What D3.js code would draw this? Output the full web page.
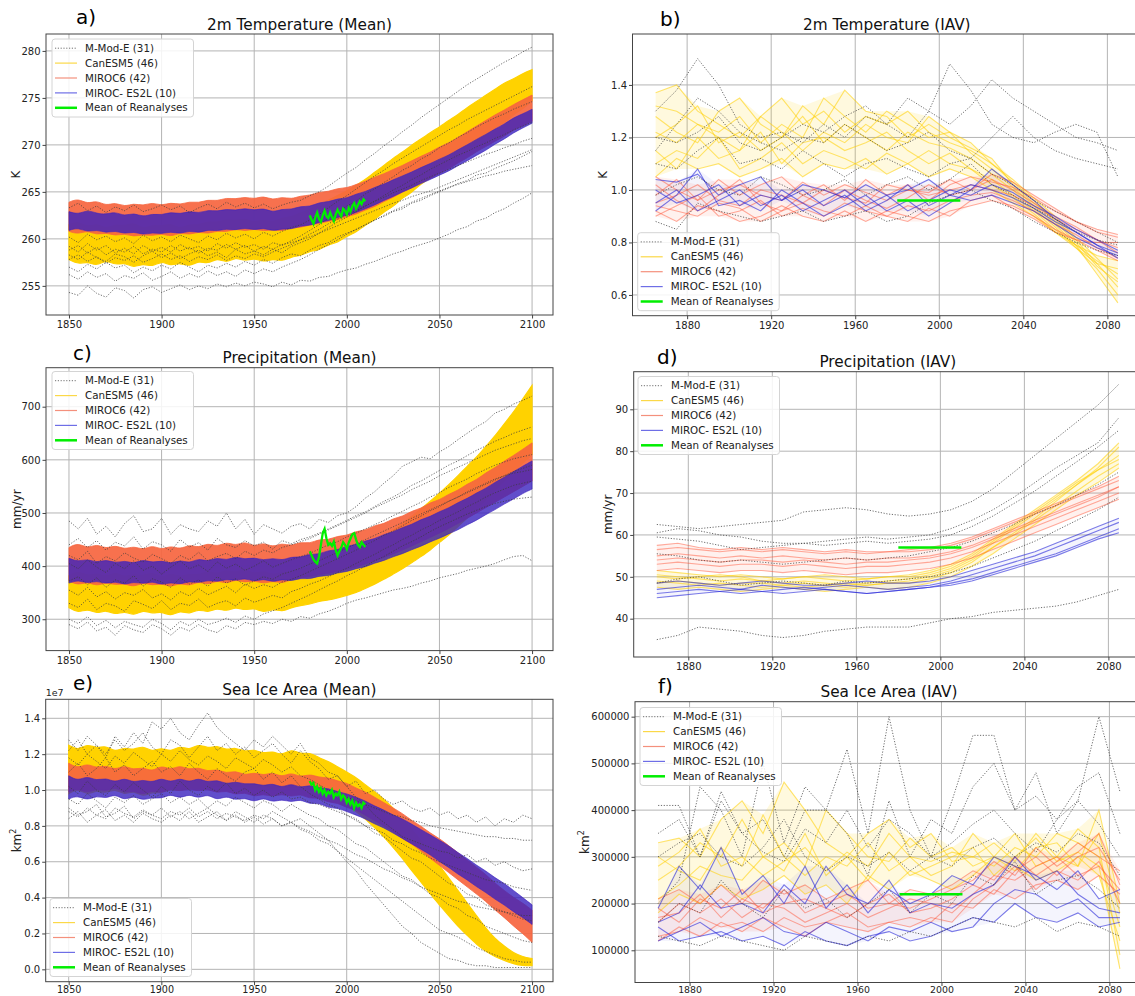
<!DOCTYPE html>
<html><head><meta charset="utf-8">
<script src="https://cdn.jsdelivr.net/npm/d3@7"></script>
<style>
body{margin:0;background:#fff;}
svg{display:block;font-family:"DejaVu Sans",sans-serif;}
</style></head><body>
<svg id="fig" width="1135" height="996"></svg>
<script>
// ---------- time axes ----------
const yrs5 = d3.range(1850, 2101, 5);     // years of mean-panel series (51)
const yrsIAV = d3.range(1865, 2086, 10);  // IAV years (23)
const yrsObs = d3.range(1980, 2011);      // reanalysis years (31)
const obsIAVYears = [1980, 2010];

const groupNames = ["M-Mod-E (31)", "CanESM5 (46)", "MIROC6 (42)", "MIROC- ES2L (10)", "Mean of Reanalyses"];

// ---------- a) 2m Temperature (Mean), K : ensemble envelopes + M-Mod-E members ----------
const tasMean_CanESM5_lo = [257.8,257.3,257.6,257.1,257.8,257.2,257.5,256.9,257.4,257.0,257.7,257.1,257.5,257.0,257.7,257.3,258.0,257.4,258.1,257.6,258.0,257.5,257.9,257.6,258.1,258.2,258.7,258.8,259.4,259.6,260.3,260.7,261.5,262.0,262.9,263.4,264.4,264.9,265.9,266.4,267.3,267.8,268.8,269.3,270.3,270.9,271.9,272.3,273.3,273.8,274.7];
const tasMean_CanESM5_hi = [261.5,261.9,261.2,261.7,261.0,261.6,261.3,261.8,261.0,261.5,261.3,261.7,261.0,261.6,261.4,261.9,261.7,262.1,261.9,262.2,261.7,262.1,261.7,262.3,262.3,262.8,263.1,263.7,264.1,264.6,265.1,265.7,266.3,267.1,267.8,268.6,269.2,270.0,270.6,271.3,271.9,272.6,273.2,274.0,274.6,275.3,275.9,276.6,277.0,277.6,278.0];
const tasMean_MIROC6_lo = [260.8,260.5,260.9,260.4,260.7,260.3,260.6,260.2,260.5,260.3,260.6,260.2,260.7,260.4,260.8,260.5,260.9,260.7,261.1,260.8,261.1,260.8,261.0,260.8,261.2,261.2,261.5,261.6,261.9,262.0,262.4,262.6,263.1,263.4,264.0,264.4,265.0,265.4,266.0,266.4,267.0,267.4,268.1,268.6,269.3,269.8,270.4,270.9,271.6,272.0,272.5];
const tasMean_MIROC6_hi = [263.9,264.3,263.7,264.1,263.5,263.9,263.4,263.8,263.5,263.9,263.5,263.9,263.6,264.0,263.8,264.2,264.0,264.4,264.2,264.5,264.2,264.6,264.1,264.5,264.2,264.6,264.6,265.0,265.0,265.4,265.4,265.8,266.1,266.6,266.9,267.4,267.8,268.3,268.8,269.2,269.8,270.2,270.8,271.4,272.0,272.6,273.2,273.7,274.3,274.8,275.3];
const tasMean_ES2L_lo = [260.9,261.2,260.7,261.0,260.6,260.9,260.5,260.8,260.4,260.7,260.5,260.8,260.5,260.9,260.6,261.0,260.8,261.1,260.9,261.2,260.9,261.2,260.8,261.1,261.0,261.4,261.4,261.8,261.9,262.3,262.5,262.8,263.2,263.6,264.1,264.5,265.0,265.4,265.9,266.3,266.8,267.2,267.8,268.3,268.9,269.4,270.1,270.6,271.3,271.8,272.3];
const tasMean_ES2L_hi = [262.9,262.6,263.1,262.7,262.6,262.9,262.4,262.8,262.3,262.7,262.5,262.9,262.6,263.0,262.7,263.1,262.9,263.2,263.0,263.3,263.0,263.3,262.8,263.2,263.1,263.5,263.4,263.9,263.9,264.3,264.3,264.8,265.0,265.5,265.8,266.3,266.7,267.1,267.6,268.0,268.5,268.9,269.5,270.0,270.6,271.1,271.7,272.2,272.9,273.3,273.8];
const tasMean_MModE = [
 [254.3,254.0,255.0,254.2,253.8,254.8,254.5,253.7,254.6,254.9,254.3,254.7,255.1,254.6,255.0,254.7,255.2,254.9,255.3,255.0,255.4,255.2,254.9,255.4,255.1,255.6,255.5,255.9,256.0,256.4,256.7,256.9,257.3,257.6,258.0,258.4,258.7,259.1,259.4,259.7,260.1,260.5,261.0,261.3,261.9,262.2,262.8,263.2,263.8,264.3,264.9],
 [257.0,256.5,257.3,256.8,257.5,256.9,257.2,256.4,257.0,256.6,257.2,256.8,257.5,257.0,256.5,257.2,256.9,257.4,257.0,257.6,257.2,257.8,257.4,258.0,258.4,258.2,258.8,259.3,259.6,260.2,260.6,261.0,261.5,262.0,262.4,262.9,263.2,263.8,264.1,264.6,265.0,265.4,265.9,266.2,266.8,267.0,267.5,267.9,268.3,268.8,269.3],
 [258.3,257.8,258.6,258.0,257.6,258.4,258.1,257.5,258.2,258.7,258.0,258.5,257.9,258.4,258.8,258.2,258.6,258.0,258.9,258.4,258.7,258.3,258.9,258.5,259.2,259.6,260.0,260.6,261.2,261.8,262.3,262.9,263.5,264.0,264.6,265.2,265.7,266.3,266.8,267.4,267.9,268.4,268.9,269.3,269.8,270.2,270.7,271.1,271.6,272.0,272.4],
 [263.3,263.8,263.0,263.5,262.8,263.4,263.0,263.6,262.9,263.2,263.6,263.1,263.5,262.8,263.3,263.7,263.2,263.9,263.4,263.8,263.3,263.7,263.2,263.6,263.9,264.1,264.6,265.0,265.6,266.3,267.0,267.6,268.4,269.1,269.9,270.6,271.4,272.1,272.9,273.6,274.3,275.0,275.7,276.4,277.0,277.6,278.2,278.8,279.3,279.9,280.4],
 [260.2,259.6,260.5,259.9,260.3,259.7,260.1,259.5,260.4,259.8,260.2,259.7,260.4,260.0,259.6,260.3,259.9,260.6,260.1,260.5,260.0,260.7,260.3,260.8,261.2,261.5,262.0,262.6,263.3,264.0,264.6,265.3,266.0,266.7,267.3,268.0,268.6,269.2,269.8,270.4,271.0,271.6,272.1,272.7,273.2,273.7,274.2,274.7,275.2,275.7,276.2],
 [257.8,258.3,257.6,258.1,257.4,258.0,257.7,258.2,257.5,257.9,258.4,257.8,258.2,257.6,258.1,257.8,258.3,257.7,258.2,257.9,258.4,258.1,258.6,259.0,259.4,259.9,260.5,261.0,261.6,262.1,262.6,263.0,263.5,264.0,264.4,264.9,265.3,265.7,266.2,266.6,267.0,267.4,267.8,268.2,268.6,269.0,269.3,269.7,270.0,270.4,270.7],
 [259.2,258.6,259.5,258.8,259.3,258.5,259.0,258.4,259.3,258.7,259.1,258.6,259.4,258.9,259.2,258.7,259.5,259.0,259.6,259.1,259.4,258.9,259.6,259.3,259.8,260.3,260.9,261.5,262.2,262.8,263.5,264.0,264.8,265.3,266.0,266.6,267.3,267.8,268.5,269.0,269.7,270.2,270.8,271.3,271.9,272.4,272.9,273.3,273.8,274.2,274.6],
 [258.8,259.3,258.5,259.1,258.3,258.9,258.6,259.2,258.4,258.9,258.6,259.3,258.7,259.1,258.5,259.0,258.8,259.4,258.9,259.3,258.7,259.2,258.9,259.4,259.6,259.9,260.2,260.6,261.0,261.4,261.8,262.2,262.6,263.0,263.4,263.8,264.1,264.5,264.8,265.1,265.5,265.9,266.3,266.7,267.1,267.5,267.9,268.3,268.7,269.1,269.5],
 [256.2,255.7,256.5,255.9,256.3,255.5,256.1,255.8,256.4,255.6,256.0,256.5,255.8,256.3,255.9,256.6,256.1,256.5,256.0,256.7,256.3,256.8,256.5,257.0,257.4,257.8,258.3,258.9,259.4,259.9,260.5,261.0,261.5,262.0,262.5,263.0,263.4,263.9,264.3,264.7,265.1,265.5,265.8,266.1,266.4,266.7,266.9,267.2,267.4,267.6,267.8]
];
const tasMean_obs = [262.5,262.0,261.6,262.3,262.8,262.1,261.8,262.5,263.0,262.4,262.2,262.8,262.3,261.9,262.6,263.1,262.7,262.4,263.2,263.0,262.6,263.3,262.9,263.5,263.8,263.2,263.6,264.0,263.7,264.2,264.0];

// ---------- b) 2m Temperature (IAV), K ----------
const tasIAV_CanESM5 = [
 [1.37,1.40,1.30,1.25,1.20,1.28,1.35,1.25,1.30,1.22,1.28,1.25,1.30,1.22,1.18,1.15,1.10,1.04,0.97,0.90,0.82,0.74,0.66],
 [1.20,1.25,1.32,1.18,1.22,1.15,1.20,1.28,1.18,1.25,1.20,1.15,1.22,1.18,1.16,1.12,1.06,1.00,0.93,0.86,0.78,0.70,0.60],
 [1.10,1.15,1.12,1.20,1.08,1.12,1.18,1.10,1.15,1.12,1.08,1.14,1.10,1.15,1.10,1.08,1.04,0.98,0.92,0.85,0.79,0.73,0.68],
 [1.28,1.22,1.18,1.30,1.35,1.25,1.20,1.32,1.25,1.38,1.30,1.28,1.20,1.25,1.20,1.16,1.12,1.02,0.95,0.89,0.81,0.72,0.63],
 [1.15,1.08,1.20,1.12,1.15,1.22,1.10,1.18,1.20,1.15,1.18,1.22,1.15,1.10,1.14,1.08,1.02,0.97,0.91,0.84,0.78,0.72,0.70],
 [1.32,1.30,1.25,1.22,1.28,1.18,1.25,1.20,1.35,1.28,1.22,1.30,1.25,1.20,1.22,1.18,1.10,1.03,0.96,0.88,0.80,0.71,0.65],
 [1.05,1.12,1.08,1.10,1.05,1.08,1.12,1.05,1.10,1.08,1.12,1.06,1.10,1.05,1.08,1.05,1.00,0.95,0.90,0.84,0.79,0.75,0.73],
 [1.22,1.18,1.25,1.20,1.15,1.28,1.22,1.15,1.22,1.18,1.25,1.20,1.18,1.28,1.22,1.14,1.08,1.01,0.94,0.87,0.79,0.68,0.57]
];
const tasIAV_MIROC6 = [
 [0.95,0.98,1.02,0.96,0.94,1.00,0.98,0.95,1.00,0.97,0.95,1.02,1.00,0.98,1.00,1.02,1.00,0.98,0.94,0.89,0.85,0.81,0.78],
 [1.02,0.96,0.92,0.98,1.04,0.95,0.92,0.98,0.94,1.00,0.96,0.93,0.97,1.02,0.98,1.00,1.04,1.00,0.95,0.90,0.86,0.81,0.76],
 [0.90,0.94,0.98,0.90,0.92,0.96,0.90,0.93,0.90,0.95,0.92,0.90,0.94,0.92,0.96,0.98,0.99,0.96,0.92,0.87,0.83,0.78,0.74],
 [1.05,1.00,0.96,1.04,0.98,1.02,1.05,0.98,1.02,0.96,1.04,0.98,1.02,0.96,1.02,1.05,1.03,1.01,0.97,0.92,0.88,0.84,0.82],
 [0.92,0.88,0.94,0.92,0.88,0.90,0.94,0.90,0.88,0.92,0.88,0.92,0.90,0.88,0.92,0.94,0.96,0.94,0.90,0.85,0.81,0.77,0.73],
 [0.98,1.04,0.96,1.00,1.02,0.98,0.96,1.03,0.98,1.02,0.99,0.96,1.00,0.99,1.04,1.00,1.06,1.03,0.98,0.93,0.88,0.85,0.83],
 [0.94,0.92,0.90,0.95,0.93,0.88,0.92,0.95,0.92,0.90,0.94,0.90,0.88,0.93,0.90,0.96,0.98,0.93,0.89,0.84,0.81,0.80,0.80]
];
const tasIAV_ES2L = [
 [1.04,1.03,1.06,0.98,1.02,1.05,0.96,1.02,1.00,0.97,1.02,0.98,1.00,1.04,0.98,1.02,1.00,0.97,0.93,0.88,0.84,0.79,0.76],
 [0.95,1.00,0.92,0.96,1.00,0.94,0.98,0.92,0.96,1.00,0.94,0.98,0.92,0.96,1.00,0.98,1.02,0.99,0.94,0.90,0.85,0.81,0.77],
 [0.92,0.98,1.08,0.94,0.96,0.92,1.00,0.95,0.90,0.94,0.98,0.92,0.96,0.90,0.95,1.00,1.08,1.02,0.96,0.89,0.84,0.79,0.74],
 [1.00,0.95,0.98,1.02,0.94,0.98,0.96,1.00,0.94,0.98,0.92,0.96,1.02,0.94,0.98,0.96,0.98,0.95,0.92,0.87,0.82,0.78,0.75]
];
const tasIAV_MModE = [
 [1.30,1.38,1.50,1.40,1.25,1.20,1.22,1.18,1.25,1.20,1.28,1.25,1.35,1.30,1.48,1.38,1.25,1.20,1.18,1.22,1.25,1.22,1.05],
 [1.15,1.25,1.35,1.30,1.22,1.18,1.15,1.20,1.18,1.25,1.20,1.15,1.18,1.22,1.15,1.12,1.06,1.02,0.96,0.92,0.88,0.84,0.80],
 [0.88,0.85,0.95,0.92,0.90,0.88,0.90,0.92,0.88,0.90,0.92,0.88,0.90,0.95,0.98,1.00,0.96,0.93,0.88,0.84,0.80,0.77,0.75],
 [1.10,1.08,1.15,1.20,1.10,1.12,1.08,1.15,1.10,1.05,1.10,1.12,1.08,1.05,1.10,1.12,1.20,1.28,1.20,1.15,1.12,1.10,1.08],
 [0.98,1.02,1.05,1.00,0.98,1.05,1.02,0.98,1.00,1.04,0.98,1.02,1.05,1.00,1.04,1.10,1.02,0.98,0.93,0.89,0.84,0.81,0.79],
 [1.20,1.18,1.22,1.28,1.18,1.15,1.20,1.25,1.22,1.28,1.32,1.25,1.20,1.30,1.25,1.32,1.42,1.35,1.30,1.25,1.20,1.18,1.15]
];
const tasIAV_obs = 0.96;

// ---------- c) Precipitation (Mean), mm/yr ----------
const prMean_CanESM5_lo = [322,312,320,310,318,308,316,306,318,310,315,305,317,309,320,312,322,314,324,316,322,312,320,314,322,326,328,334,336,340,345,350,358,366,375,385,395,406,418,430,445,458,475,490,508,524,543,560,578,594,610];
const prMean_CanESM5_hi = [382,392,380,388,378,390,378,386,380,390,376,388,378,386,382,392,384,394,386,396,384,392,382,390,386,395,395,402,405,412,418,426,435,445,456,468,480,494,507,522,537,553,570,588,605,625,645,668,690,715,740];
const prMean_MIROC6_lo = [372,364,371,362,370,364,368,360,370,363,368,360,369,362,372,364,374,366,376,368,374,366,373,367,375,378,380,384,386,390,394,398,404,410,416,423,430,438,446,454,462,471,480,490,500,510,520,530,540,550,560];
const prMean_MIROC6_hi = [435,444,433,442,432,440,431,438,430,440,430,439,431,441,434,444,436,446,438,447,436,445,435,444,437,446,442,451,449,457,457,466,467,477,479,490,493,504,508,520,524,536,542,555,562,576,585,598,608,620,632];
const prMean_ES2L_lo = [368,374,367,373,366,372,364,371,366,372,364,370,365,372,368,374,370,376,372,378,370,377,369,376,371,378,375,382,381,388,389,396,398,406,410,418,423,431,437,446,452,461,468,478,486,497,506,517,526,537,545];
const prMean_ES2L_hi = [415,408,414,406,413,405,411,404,413,406,411,404,412,405,415,408,417,410,419,412,417,410,416,410,418,416,423,422,430,430,438,440,448,451,460,464,473,478,488,493,503,509,520,527,538,546,558,567,578,588,598];
const prMean_MModE = [
 [485,470,490,460,475,455,480,495,465,470,490,460,478,470,465,485,475,500,470,488,460,478,470,462,475,480,470,488,482,495,500,512,528,540,556,570,588,596,605,602,615,625,638,650,662,672,688,695,705,712,720],
 [440,452,435,448,430,445,438,455,432,446,440,428,450,436,444,430,452,440,435,448,438,445,432,448,442,450,455,462,470,478,486,495,502,512,522,530,540,552,560,570,580,590,598,608,618,626,635,642,650,656,662],
 [405,395,412,398,388,405,395,410,392,400,385,398,410,395,402,390,408,396,404,392,400,410,398,405,412,418,424,432,440,446,455,462,470,478,486,495,503,512,520,530,538,548,556,564,574,582,590,596,602,606,610],
 [330,322,338,318,330,325,315,335,328,320,335,318,330,326,338,322,330,335,325,340,332,338,345,340,352,358,366,372,380,388,396,405,414,422,432,440,450,458,468,476,486,494,502,512,520,530,538,545,552,556,560],
 [300,292,305,288,298,284,296,290,285,300,292,280,296,288,300,290,295,302,294,306,300,310,316,322,330,338,346,355,364,372,382,390,400,410,418,428,438,446,455,465,474,482,490,498,505,512,518,522,526,528,530],
 [290,282,295,278,285,270,288,280,275,290,282,270,285,278,290,280,275,288,282,294,290,296,292,300,296,305,302,310,315,322,330,336,340,345,350,355,358,362,368,372,378,382,386,392,396,400,405,412,418,420,410],
 [355,345,360,342,352,338,350,345,356,340,348,336,352,344,358,346,354,362,350,366,358,365,360,370,375,382,390,398,406,414,422,430,440,448,458,466,476,486,494,504,512,522,530,540,548,556,564,570,575,578,582],
 [420,412,428,405,418,410,425,415,408,422,414,405,420,412,426,410,418,424,414,428,420,430,425,435,440,446,452,460,468,476,484,492,500,510,518,526,534,544,552,560,570,578,586,594,602,610,618,624,630,636,640],
 [372,380,365,378,360,374,368,382,362,376,370,360,378,366,374,362,380,368,376,364,372,380,375,385,390,396,404,410,418,426,434,442,450,458,466,474,482,490,498,506,514,522,530,538,546,554,562,570,578,584,590]
];
const prMean_obs = [428,420,412,408,405,418,440,462,470,452,440,443,438,446,430,420,428,435,445,440,432,444,452,460,462,450,440,436,445,440,436];

// ---------- d) Precipitation (IAV), mm/yr ----------
const prIAV_CanESM5 = [
 [50.5,50,49.5,49,49.5,49,48.5,49,48.5,48,48.5,49,49.5,50.5,52,54.5,58,61.5,65,68.5,72,75.5,79],
 [49,48.5,48,48.5,48,47.5,48,48.5,48,47.5,48,48.5,49,50,51.5,54,57,60.5,64,68,72,76,81],
 [51.5,51,50.5,50,50.5,50,49.5,50,50.5,50,49.5,50,50.5,51.5,53,55.5,59,62.5,66,69.5,73,77,82],
 [47.5,47,47.5,47,46.5,47,47.5,47,46.5,47,47.5,47,47.5,48.5,50,52.5,55.5,59,62.5,66,69.5,72.5,76],
 [50,49.5,50,50.5,50,49,49.5,50,49.5,49,49.5,50,50,51,52.5,55,58.5,62,65.5,69,72.5,75.5,78],
 [48.5,49,48.5,48,48.5,48.5,48,47.5,48,48.5,48,48.5,48.5,49.5,51,53.5,57,60,63.5,67,70.5,74,77]
];
const prIAV_MIROC6 = [
 [55,55.5,55,54.5,55,54.5,55,54.5,54,54.5,54,54.5,54.5,55,56,57.5,59.5,61.5,63.5,65.5,67.5,69.5,71.5],
 [53,53.5,53,52.5,53,53,52.5,53,52.5,52,52.5,52.5,53,53.5,54.5,56,58,60,62,64,66,68,70],
 [56.5,57,56.5,56,56.5,56,56.5,56,55.5,56,55.5,56,56,56.5,57.5,59,61,63,65,67,69,71,73],
 [51.5,52,51.5,51,51.5,51.5,51,51.5,51,50.5,51,51,51.5,52,53,54.5,56.5,58.5,60.5,62.5,64.5,66.5,68.5],
 [54,54.5,54,53.5,54,54,53.5,54,53.5,53,53.5,53.5,54,54.5,55.5,57,59,61,63,65,67,69,71.5],
 [57.5,58,57,56.5,57,56.5,57,56.5,56,56.5,56,56,56.5,57,58,59.5,61.5,63.5,65.5,67.5,69.5,71.5,74]
];
const prIAV_ES2L = [
 [45,45.5,46,46.5,47,46.5,46,46.5,47,46.5,46,46.5,47,47.5,48.5,49.5,51,52.5,54,55.5,57.5,59.5,61.5],
 [47,47.5,48,47.5,47,48,47.5,47,47.5,48,47.5,47,47.5,48,49,50.5,52,53.5,55,57,59,61,63],
 [48.5,49,48.5,48,48.5,49,48.5,48,48,48.5,49,48.5,48.5,49,50,51.5,53,54.5,56,58,60,62,64],
 [46,46.5,47,46.5,46,46.5,47,47.5,47,46.5,46,46.5,47,47.5,48,49,50.5,52,53.5,55,57,59,60.5]
];
const prIAV_MModE = [
 [62.5,62,61.5,62,62.5,63,63.5,65.5,66,66.5,66,65,64.5,65,66,68,71,75,79,83,87,91,96],
 [35,36,38,37.5,37,36,35.5,36,37,37.5,38,38,38,39,40,40.5,41.5,42,42.5,43,44,45.5,47],
 [59.5,59,58.5,57.5,56.5,57,57.5,58,57.5,58,58.5,58,58.5,59,60,62,64.5,67.5,70.5,74,77.5,81,85],
 [55.5,55,54,53.5,54,53.5,53,53.5,54,54.5,54,54.5,55,56,57,58.5,60.5,62.5,65,67,69.5,72,75],
 [48.5,49.5,50,49,48,48.5,49,48.5,48,49,48.5,49,49.5,50,51,52.5,54.5,56.5,58.5,61,63.5,66,69],
 [60.5,61.5,61,60,59.5,58.5,58,58,58.5,59,59.5,59,59.5,60,61.5,63.5,66,69,72.5,76,79,82,88]
];
const prIAV_obs = 57;

// ---------- e) Sea Ice Area (Mean), 1e7 km2 ----------
const siMean_CanESM5_lo = [0.98,1.01,0.97,1.00,0.98,1.01,0.97,1.00,0.96,0.99,0.98,1.01,0.99,1.02,1.00,1.03,1.01,1.04,1.01,1.03,1.00,1.03,1.00,1.02,1.01,1.02,1.00,0.99,0.97,0.95,0.92,0.88,0.84,0.79,0.74,0.68,0.62,0.55,0.49,0.42,0.36,0.30,0.24,0.19,0.14,0.10,0.07,0.05,0.03,0.02,0.02];
const siMean_CanESM5_hi = [1.25,1.22,1.26,1.23,1.25,1.21,1.24,1.22,1.25,1.21,1.24,1.21,1.25,1.22,1.26,1.23,1.25,1.22,1.24,1.21,1.23,1.20,1.22,1.19,1.23,1.20,1.21,1.18,1.16,1.13,1.10,1.07,1.03,0.99,0.95,0.90,0.84,0.78,0.72,0.65,0.58,0.51,0.44,0.37,0.30,0.23,0.17,0.13,0.09,0.07,0.06];
const siMean_MIROC6_lo = [0.99,1.01,0.98,1.01,0.99,1.02,0.98,1.00,0.97,1.00,0.98,1.01,0.99,1.01,0.99,1.01,0.98,1.00,0.97,0.99,0.96,0.98,0.96,0.98,0.96,0.98,0.95,0.96,0.93,0.93,0.90,0.89,0.86,0.83,0.80,0.77,0.73,0.70,0.66,0.62,0.58,0.54,0.50,0.46,0.42,0.38,0.33,0.29,0.24,0.20,0.15];
const siMean_MIROC6_hi = [1.15,1.12,1.15,1.12,1.14,1.11,1.14,1.11,1.13,1.10,1.14,1.11,1.14,1.11,1.13,1.10,1.12,1.09,1.11,1.08,1.10,1.08,1.10,1.07,1.10,1.07,1.09,1.07,1.07,1.05,1.04,1.01,0.99,0.96,0.93,0.90,0.87,0.83,0.80,0.76,0.73,0.69,0.65,0.61,0.57,0.53,0.48,0.44,0.40,0.37,0.33];
const siMean_ES2L_lo = [0.95,0.97,0.94,0.97,0.95,0.98,0.94,0.97,0.94,0.96,0.95,0.98,0.95,0.98,0.95,0.98,0.94,0.97,0.94,0.96,0.93,0.96,0.93,0.95,0.93,0.95,0.92,0.93,0.90,0.90,0.88,0.86,0.84,0.81,0.79,0.76,0.73,0.70,0.67,0.64,0.60,0.57,0.53,0.50,0.46,0.43,0.39,0.36,0.32,0.29,0.25];
const siMean_ES2L_hi = [1.08,1.05,1.08,1.05,1.07,1.04,1.07,1.04,1.06,1.04,1.07,1.04,1.07,1.04,1.07,1.04,1.06,1.03,1.05,1.03,1.04,1.02,1.04,1.01,1.04,1.01,1.03,1.01,1.01,0.99,0.98,0.96,0.94,0.91,0.89,0.86,0.84,0.81,0.78,0.75,0.72,0.69,0.65,0.62,0.58,0.55,0.51,0.48,0.44,0.40,0.36];
const siMean_MModE = [
 [1.22,1.28,1.20,1.25,1.18,1.30,1.24,1.32,1.26,1.38,1.34,1.40,1.32,1.28,1.36,1.43,1.35,1.30,1.26,1.22,1.28,1.24,1.30,1.25,1.20,1.26,1.18,1.15,1.10,1.08,1.02,0.96,0.92,0.86,0.82,0.78,0.74,0.72,0.70,0.68,0.66,0.65,0.62,0.64,0.60,0.62,0.58,0.60,0.57,0.55,0.56],
 [1.28,1.22,1.30,1.25,1.20,1.28,1.22,1.26,1.32,1.24,1.20,1.28,1.25,1.18,1.24,1.30,1.22,1.26,1.20,1.24,1.18,1.22,1.26,1.20,1.15,1.22,1.16,1.12,1.06,1.08,1.02,1.05,0.98,1.00,0.95,0.92,0.94,0.90,0.88,0.90,0.86,0.88,0.84,0.86,0.82,0.85,0.80,0.84,0.82,0.86,0.84],
 [0.88,0.85,0.90,0.86,0.84,0.90,0.87,0.85,0.89,0.86,0.84,0.88,0.86,0.90,0.85,0.88,0.84,0.87,0.85,0.83,0.86,0.84,0.88,0.85,0.82,0.84,0.80,0.76,0.72,0.66,0.60,0.55,0.48,0.42,0.36,0.30,0.24,0.20,0.15,0.12,0.09,0.06,0.05,0.03,0.02,0.02,0.01,0.01,0.01,0.01,0.01],
 [0.95,0.92,0.98,0.94,0.90,0.96,0.93,0.97,0.92,0.95,0.98,0.93,0.96,0.92,0.95,0.90,0.94,0.91,0.96,0.93,0.90,0.94,0.92,0.88,0.92,0.89,0.86,0.84,0.80,0.78,0.74,0.70,0.68,0.64,0.60,0.56,0.52,0.50,0.46,0.42,0.40,0.36,0.34,0.30,0.28,0.24,0.22,0.20,0.18,0.16,0.15],
 [1.10,1.15,1.08,1.12,1.18,1.10,1.14,1.08,1.12,1.16,1.10,1.13,1.08,1.15,1.10,1.06,1.12,1.08,1.05,1.10,1.12,1.06,1.10,1.04,1.08,1.02,0.98,0.95,0.92,0.90,0.86,0.84,0.80,0.76,0.74,0.70,0.66,0.62,0.60,0.56,0.52,0.48,0.46,0.42,0.40,0.36,0.34,0.32,0.30,0.28,0.27],
 [0.90,0.86,0.88,0.92,0.85,0.87,0.91,0.84,0.88,0.86,0.90,0.85,0.88,0.84,0.87,0.90,0.86,0.83,0.88,0.85,0.82,0.86,0.84,0.80,0.82,0.78,0.76,0.72,0.70,0.66,0.62,0.58,0.54,0.50,0.46,0.42,0.38,0.34,0.30,0.26,0.22,0.20,0.18,0.15,0.12,0.10,0.08,0.06,0.05,0.04,0.04],
 [1.02,0.98,1.05,1.00,0.97,1.03,0.99,1.04,1.00,0.96,1.02,0.98,1.05,1.00,0.97,1.02,0.99,1.04,0.98,1.01,0.97,1.00,0.96,0.99,0.95,0.96,0.93,0.92,0.90,0.88,0.86,0.83,0.80,0.78,0.76,0.72,0.70,0.67,0.65,0.62,0.60,0.58,0.56,0.54,0.52,0.50,0.49,0.48,0.46,0.45,0.44],
 [0.84,0.88,0.82,0.86,0.89,0.83,0.86,0.82,0.87,0.84,0.82,0.86,0.83,0.88,0.82,0.85,0.88,0.83,0.86,0.82,0.85,0.81,0.84,0.80,0.82,0.79,0.77,0.74,0.72,0.70,0.67,0.64,0.62,0.59,0.56,0.54,0.51,0.49,0.46,0.44,0.42,0.40,0.38,0.37,0.35,0.34,0.33,0.32,0.31,0.30,0.30],
 [1.18,1.14,1.20,1.16,1.12,1.19,1.15,1.21,1.17,1.13,1.20,1.16,1.22,1.17,1.14,1.19,1.16,1.12,1.18,1.15,1.12,1.17,1.14,1.10,1.13,1.08,1.06,1.03,1.00,0.98,0.96,0.94,0.92,0.90,0.88,0.86,0.85,0.83,0.82,0.80,0.79,0.78,0.77,0.76,0.75,0.74,0.74,0.73,0.73,0.72,0.72]
];
const siMean_obs = [1.05,1.03,1.04,1.00,1.02,0.99,1.01,0.98,1.00,0.97,0.99,0.98,1.00,0.96,0.98,0.97,0.99,0.95,0.97,0.96,0.93,0.95,0.92,0.94,0.90,0.93,0.91,0.92,0.90,0.93,0.92];

// ---------- f) Sea Ice Area (IAV), thousand km2 ----------
const siIAV_CanESM5 = [
 [330,340,300,380,420,350,460,400,330,300,350,380,320,350,290,300,280,320,300,350,330,300,150],
 [250,280,330,300,380,300,330,280,400,350,300,290,340,300,320,280,300,350,280,300,360,320,90],
 [210,240,280,260,250,300,270,350,260,300,250,310,260,280,300,320,260,300,340,290,310,280,60],
 [300,270,250,320,280,390,300,260,300,280,330,270,300,260,280,350,300,270,320,330,280,400,200],
 [180,220,200,240,210,230,260,220,240,200,260,230,270,250,230,260,300,280,250,270,300,260,120],
 [280,310,360,280,300,260,290,320,270,310,280,350,300,290,310,300,330,290,350,300,280,350,180]
];
const siIAV_MIROC6 = [
 [160,200,180,210,170,200,190,160,180,200,170,190,210,200,180,220,260,250,280,300,260,280,230],
 [190,160,210,190,230,180,200,210,190,170,200,220,180,190,210,240,220,270,300,260,300,320,250],
 [130,140,170,150,160,140,170,150,160,180,150,160,170,160,200,190,230,210,240,250,230,260,220],
 [210,230,200,240,200,250,220,240,210,230,250,200,230,220,240,270,250,300,260,290,330,300,270],
 [120,150,130,160,140,170,150,130,160,150,140,160,150,170,160,210,240,280,230,270,250,290,200],
 [170,180,220,170,210,190,230,180,200,220,190,200,190,210,230,250,290,260,320,280,310,350,240]
];
const siIAV_ES2L = [
 [150,120,130,140,120,130,110,140,120,110,130,140,120,130,150,170,160,200,170,160,180,150,160],
 [190,280,230,320,220,260,200,280,190,240,180,230,200,220,260,240,300,280,260,230,270,210,230],
 [160,180,240,190,200,180,240,200,280,220,200,250,180,200,190,220,240,300,250,270,220,190,180],
 [120,140,160,130,150,170,140,130,160,140,120,150,140,160,140,150,200,230,220,190,210,170,170]
];
const siIAV_MModE = [
 [410,410,300,440,350,380,300,400,400,530,350,600,400,300,420,560,560,400,480,350,420,600,440],
 [200,250,450,400,300,500,330,450,400,350,260,420,300,380,350,450,500,400,430,380,450,480,350],
 [130,120,110,130,120,110,100,130,120,110,130,120,140,130,150,170,160,150,170,140,160,150,130],
 [300,330,350,300,280,320,380,300,270,300,280,310,270,300,280,320,340,300,330,310,350,330,260],
 [160,200,180,250,200,170,230,190,210,170,200,230,180,220,200,260,240,290,220,250,260,230,190],
 [350,380,300,420,350,310,290,360,330,400,320,380,350,300,330,370,400,350,310,380,420,370,300]
];
const siIAV_obs = 220;

// ---------- tick labels ----------
const xticksMean = [1850,1900,1950,2000,2050,2100];
const xticksIAV = [1880,1920,1960,2000,2040,2080];

// ---------- styles ----------
const COL = {gray:"#3c3c3c", can:"#FFD000", mir:"#FF4A2A", es2l:"#2626D8", obs:"#00EE00"};
const BAND = {can:"#FFD200", mir:"#F6653F", es2l:"#3A22BE"};
const LEG = {gray:"#707070", can:"#FBD848", mir:"#F4907C", es2l:"#6E6EE6", obs:"#00EE00"};

const svg = d3.select("#fig");

function panel(cfg) {
  const x = d3.scaleLinear().domain(cfg.xdom).range([cfg.l, cfg.r]);
  const y = d3.scaleLinear().domain(cfg.ydom).range([cfg.b, cfg.t]);
  const g = svg.append("g");
  const cid = "clip_" + cfg.id;
  svg.append("clipPath").attr("id", cid).append("rect")
    .attr("x", cfg.l).attr("y", cfg.t).attr("width", cfg.r - cfg.l).attr("height", cfg.b - cfg.t);
  const grid = g.append("g").attr("stroke", "#b4b4b4").attr("stroke-width", 1);
  grid.selectAll("line.vx").data(cfg.xticks).join("line")
    .attr("x1", d => x(d)).attr("x2", d => x(d)).attr("y1", cfg.t).attr("y2", cfg.b);
  grid.selectAll("line.hy").data(cfg.yticks).join("line")
    .attr("y1", d => y(d)).attr("y2", d => y(d)).attr("x1", cfg.l).attr("x2", cfg.r);
  const dl = g.append("g").attr("clip-path", `url(#${cid})`);
  cfg.draw(dl, x, y);
  g.append("rect").attr("x", cfg.l).attr("y", cfg.t).attr("width", cfg.r - cfg.l).attr("height", cfg.b - cfg.t)
    .attr("fill", "none").attr("stroke", "#444").attr("stroke-width", 1);
  const ax = g.append("g").attr("transform", `translate(0,${cfg.b})`)
    .call(d3.axisBottom(x).tickValues(cfg.xticks).tickSize(3.5).tickPadding(cfg.xpad ?? 2.5).tickFormat(d3.format("d")));
  const ay = g.append("g").attr("transform", `translate(${cfg.l},0)`)
    .call(d3.axisLeft(y).tickValues(cfg.yticks).tickSize(3.5).tickPadding(2).tickFormat(cfg.yfmt));
  [ax, ay].forEach(a => {
    a.select(".domain").remove();
    a.selectAll("line").attr("stroke", "#444");
    a.selectAll("text").attr("font-size", 10).attr("fill", "#222").attr("font-family", "DejaVu Sans");
  });
  if (cfg.xfs) ax.selectAll("text").attr("font-size", cfg.xfs);
  g.append("text").attr("x", (cfg.l + cfg.r) / 2).attr("y", cfg.t - 4.5).attr("text-anchor", "middle")
    .attr("font-size", 15.3).attr("fill", "#111").text(cfg.title);
  g.append("text").attr("x", cfg.lx).attr("y", cfg.ly).attr("font-size", 20).attr("fill", "#000").text(cfg.letter);
  const yl = g.append("text").attr("transform", `translate(${cfg.ylx},${(cfg.t + cfg.b) / 2}) rotate(-90)`)
    .attr("text-anchor", "middle").attr("dy", "0.35em").attr("font-size", 12).attr("fill", "#222");
  if (cfg.ylab === "km2") {
    yl.append("tspan").text("km");
    yl.append("tspan").attr("font-size", 8).attr("dy", "-0.7em").text("2");
  } else yl.text(cfg.ylab);
  if (cfg.offset) g.append("text").attr("x", cfg.l).attr("y", cfg.t - 3).attr("font-size", 9.5).attr("fill", "#222").text(cfg.offset);
  legend(g, cfg.leg[0], cfg.leg[1]);
}

function legend(g, lx, ly) {
  const lg = g.append("g").attr("transform", `translate(${lx},${ly})`);
  lg.append("rect").attr("width", 141.5).attr("height", 78).attr("rx", 3)
    .attr("fill", "#fff").attr("fill-opacity", 0.85).attr("stroke", "#d4d4d4").attr("stroke-width", 1);
  const styles = [
    {c: LEG.gray, w: 1, dash: "1.2,1.6"},
    {c: LEG.can, w: 1.2}, {c: LEG.mir, w: 1.2}, {c: LEG.es2l, w: 1.2}, {c: LEG.obs, w: 2.5}
  ];
  groupNames.forEach((n, i) => {
    const yy = 9.2 + i * 14.9;
    lg.append("line").attr("x1", 3).attr("x2", 25).attr("y1", yy).attr("y2", yy)
      .attr("stroke", styles[i].c).attr("stroke-width", styles[i].w).attr("stroke-dasharray", styles[i].dash || null);
    lg.append("text").attr("x", 33).attr("y", yy).attr("dy", "0.35em").attr("font-size", 10.3).attr("fill", "#222").text(n);
  });
}

function drawMean(bands, gray, obs) {
  return (dl, x, y) => {
    const area = (lo, hi) => d3.area().x((d, i) => x(yrs5[i])).y0((d, i) => y(lo[i])).y1((d, i) => y(hi[i])).curve(d3.curveBasis)(lo);
    const line5 = d3.line().x((d, i) => x(yrs5[i])).y(d => y(d));
    dl.append("path").attr("d", area(bands[0][0], bands[0][1])).attr("fill", BAND.can).attr("stroke", BAND.can).attr("stroke-width", 1.2);
    dl.append("path").attr("d", area(bands[1][0], bands[1][1])).attr("fill", BAND.mir).attr("fill-opacity", 0.92).attr("stroke", BAND.mir).attr("stroke-width", 1).attr("stroke-opacity", 0.8);
    dl.append("path").attr("d", area(bands[2][0], bands[2][1])).attr("fill", BAND.es2l).attr("fill-opacity", 0.8).attr("stroke", BAND.es2l).attr("stroke-width", 1).attr("stroke-opacity", 0.6);
    gray.forEach(s => dl.append("path").attr("d", line5(s)).attr("fill", "none").attr("stroke", COL.gray)
      .attr("stroke-width", 1).attr("stroke-dasharray", "1.2,1.6").attr("stroke-opacity", 0.75));
    dl.append("path").attr("d", d3.line().x((d, i) => x(yrsObs[i])).y(d => y(d))(obs))
      .attr("fill", "none").attr("stroke", COL.obs).attr("stroke-width", 2.3);
  };
}

function drawIAV(sets, obsVal, scale) {
  return (dl, x, y) => {
    const ln = d3.line().x((d, i) => x(yrsIAV[i])).y(d => y(d * scale));
    // translucent spread of each ensemble (min..max of its members)
    const spread = (members, color, op) => {
      const lo = yrsIAV.map((_, i) => d3.min(members, m => m[i]));
      const hi = yrsIAV.map((_, i) => d3.max(members, m => m[i]));
      dl.append("path").attr("d", d3.area().x((d, i) => x(yrsIAV[i])).y0((d, i) => y(lo[i] * scale)).y1((d, i) => y(hi[i] * scale))(lo))
        .attr("fill", color).attr("fill-opacity", op).attr("stroke", "none");
    };
    spread(sets.can, COL.can, 0.13);
    spread(sets.mir, COL.mir, 0.08);
    spread(sets.es2l, COL.es2l, 0.05);
    sets.can.forEach(s => dl.append("path").attr("d", ln(s)).attr("fill", "none").attr("stroke", COL.can).attr("stroke-width", 1.1).attr("stroke-opacity", 0.55));
    sets.mir.forEach(s => dl.append("path").attr("d", ln(s)).attr("fill", "none").attr("stroke", COL.mir).attr("stroke-width", 1.1).attr("stroke-opacity", 0.45));
    sets.es2l.forEach(s => dl.append("path").attr("d", ln(s)).attr("fill", "none").attr("stroke", COL.es2l).attr("stroke-width", 1.1).attr("stroke-opacity", 0.6));
    sets.gray.forEach(s => dl.append("path").attr("d", ln(s)).attr("fill", "none").attr("stroke", COL.gray)
      .attr("stroke-width", 1).attr("stroke-dasharray", "1.2,1.6").attr("stroke-opacity", 0.75));
    dl.append("line").attr("x1", x(obsIAVYears[0])).attr("x2", x(obsIAVYears[1]))
      .attr("y1", y(obsVal * scale)).attr("y2", y(obsVal * scale)).attr("stroke", COL.obs).attr("stroke-width", 2.5);
  };
}

const f1 = d3.format(".1f"), fd = d3.format("d");

panel({id:"a", l:46, r:553, t:34, b:315, xdom:[1837.6,2111.3], ydom:[251.9,281.8],
  xticks:xticksMean, yticks:[255,260,265,270,275,280], yfmt:fd, title:"2m Temperature (Mean)", letter:"a)", lx:76, ly:24,
  ylab:"K", ylx:16, leg:[52,39],
  draw: drawMean([[tasMean_CanESM5_lo,tasMean_CanESM5_hi],[tasMean_MIROC6_lo,tasMean_MIROC6_hi],[tasMean_ES2L_lo,tasMean_ES2L_hi]], tasMean_MModE, tasMean_obs)});

panel({id:"b", l:632.5, r:1141, t:34, b:315.7, xdom:[1854,2096], ydom:[0.521,1.594],
  xticks:xticksIAV, yticks:[0.6,0.8,1.0,1.2,1.4], yfmt:f1, title:"2m Temperature (IAV)", letter:"b)", lx:660, ly:26,
  ylab:"K", ylx:603, leg:[637.7,232.7],
  draw: drawIAV({can:tasIAV_CanESM5, mir:tasIAV_MIROC6, es2l:tasIAV_ES2L, gray:tasIAV_MModE}, tasIAV_obs, 1)});

panel({id:"c", l:46, r:553, t:367.7, b:650.6, xdom:[1837.6,2111.3], ydom:[241,773.4],
  xticks:xticksMean, yticks:[300,400,500,600,700], yfmt:fd, title:"Precipitation (Mean)", letter:"c)", lx:73, ly:360,
  ylab:"mm/yr", ylx:17, leg:[52,371.5],
  draw: drawMean([[prMean_CanESM5_lo,prMean_CanESM5_hi],[prMean_MIROC6_lo,prMean_MIROC6_hi],[prMean_ES2L_lo,prMean_ES2L_hi]], prMean_MModE, prMean_obs)});

panel({id:"d", l:633.7, r:1142, t:371.7, b:657, xdom:[1854,2096], ydom:[30.85,98.98],
  xticks:xticksIAV, yticks:[40,50,60,70,80,90], yfmt:fd, title:"Precipitation (IAV)", letter:"d)", lx:657, ly:364,
  ylab:"mm/yr", ylx:608, leg:[638,376.5],
  draw: drawIAV({can:prIAV_CanESM5, mir:prIAV_MIROC6, es2l:prIAV_ES2L, gray:prIAV_MModE}, prIAV_obs, 1)});

panel({id:"e", l:45.7, r:553, t:699.3, b:981.7, xdom:[1837.6,2111.3], ydom:[-0.069,1.506],
  xticks:xticksMean, yticks:[0,0.2,0.4,0.6,0.8,1.0,1.2,1.4], yfmt:f1, title:"Sea Ice Area (Mean)", letter:"e)", lx:73, ly:690,
  ylab:"km2", ylx:17, leg:[50,898.5], offset:"1e7", xpad:1, xfs:9.6,
  draw: drawMean([[siMean_CanESM5_lo,siMean_CanESM5_hi],[siMean_MIROC6_lo,siMean_MIROC6_hi],[siMean_ES2L_lo,siMean_ES2L_hi]], siMean_MModE, siMean_obs)});

panel({id:"f", l:635, r:1143, t:701.7, b:982.5, xdom:[1854,2096], ydom:[31070,632010],
  xticks:xticksIAV, yticks:[100000,200000,300000,400000,500000,600000], yfmt:fd, title:"Sea Ice Area (IAV)", letter:"f)", lx:658, ly:693,
  ylab:"km2", ylx:585, leg:[640,707.5], xpad:0.5, xfs:9.4,
  draw: drawIAV({can:siIAV_CanESM5, mir:siIAV_MIROC6, es2l:siIAV_ES2L, gray:siIAV_MModE}, siIAV_obs, 1000)});
</script></body></html>
